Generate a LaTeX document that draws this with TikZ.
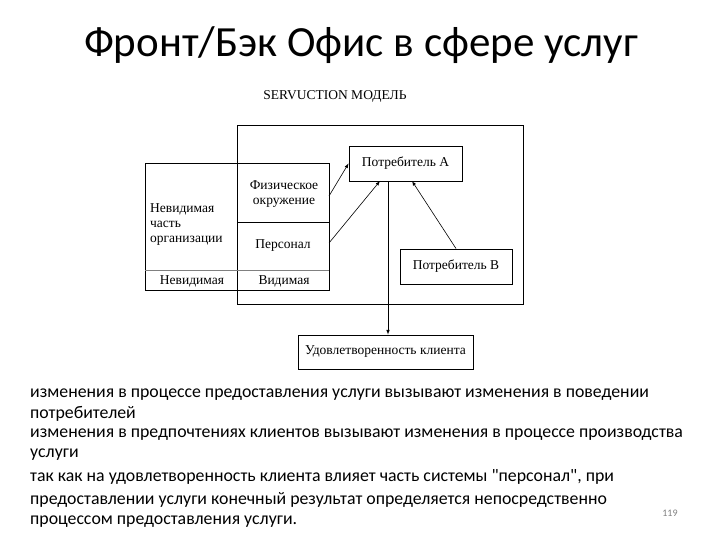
\documentclass[tikz,border=0pt]{standalone}
\usepackage{fontspec}
\setmainfont{Carlito}
\newfontfamily\bodyf{Carlito}
\newfontfamily\serif{Liberation Serif}
\begin{document}
\begin{tikzpicture}[x=1pt,y=-1pt,
  bx/.style={draw,line width=0.9pt},
  dt/.style={font=\serif\fontsize{13.5}{15}\selectfont,inner sep=0pt},
  arr/.style={-latex,line width=0.6pt},
  bt/.style={anchor=west,inner sep=0pt,font=\bodyf\fontsize{17.8}{20}\selectfont}]
\useasboundingbox[fill=white] (0,0) rectangle (720,540);
\node (title) at (361,45) {\fontsize{43}{50}\selectfont Фронт/Бэк Офис в сфере услуг};
\node[dt] (model) at (335,96) {SERVUCTION МОДЕЛЬ};
\node[bx,minimum width=286,minimum height=179,inner sep=0pt] (big) at (380,214.5) {};
\draw[line width=0.9pt] (237,163) -- (145,163) -- (145,290) -- (329,290) -- (329,163) -- (237,163);
\draw[line width=0.9pt] (237,222) -- (329,222);
\draw[line width=0.7pt,gray] (145,270) -- (329,270);
\node[dt,align=center] (phys) at (284,194) {Физическое\\окружение};
\node[dt] (pers) at (283,246) {Персонал};
\node[dt,align=left,anchor=west] (inv) at (150,225) {Невидимая\\часть\\организации};
\node[dt] (inv2) at (192,281) {Невидимая};
\node[dt] (vis) at (284,281) {Видимая};
\node[bx,dt,minimum width=113,minimum height=35] (A) at (405.5,163.5) {Потребитель А};
\node[bx,dt,minimum width=112,minimum height=35] (B) at (456,266.5) {Потребитель В};
\node[bx,dt,minimum width=175,minimum height=34] (S) at (385.5,352) {Удовлетворенность клиента};
\coordinate (p1) at (329,196);
\coordinate (p2) at (329,243);
\draw[arr] (p1) -- (A.west);
\draw[arr] (p2) -- (380,181);
\draw[arr] (B.north) -- (412,181);
\draw[arr] (388,181) -- (S.north -| 388,0);
\node[bt] (t1) at (30,395) {изменения в процессе предоставления услуги вызывают изменения в поведении};
\node[bt] (t2) at (30,414) {потребителей};
\node[bt] (t3) at (30,435) {изменения в предпочтениях клиентов вызывают изменения в процессе производства};
\node[bt] (t4) at (30,455) {услуги};
\node[bt] (t5) at (30,477) {так как на удовлетворенность клиента влияет часть системы "персонал", при};
\node[bt] (t6) at (30,500) {предоставлении услуги конечный результат определяется непосредственно};
\node[bt] (t7) at (30,522) {процессом предоставления услуги.};
\node[font=\fontsize{10}{11}\selectfont,text=gray] (pg) at (670,513) {119};
\end{tikzpicture}
\end{document}
